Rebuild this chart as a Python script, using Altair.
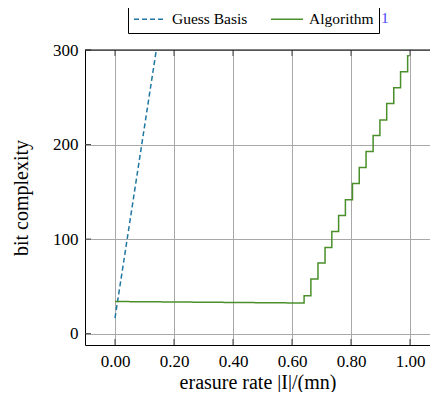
import altair as alt
import pandas as pd

# Guess Basis (dashed)
guess_x = [0.0, 0.14]
guess_y = [16.5, 300.0]

# Algorithm 1 (staircase)
alg_start = (0.0, 34.0)
plateau_end_y = 32.4
step_x = [0.641, 0.664, 0.688, 0.712, 0.735, 0.758, 0.781, 0.805, 0.828,
          0.851, 0.875, 0.898, 0.921, 0.945, 0.968, 0.992]
step_y = [40.1, 57.7, 74.6, 91.2, 108.1, 125.0, 141.5, 158.8, 175.7,
          192.6, 209.5, 226.0, 243.3, 260.2, 277.1, 294.0]
alg_end_x = 0.998

series = ["Guess Basis", "Algorithm 1"]
colors = ["#1f77a0", "#4a8f2a"]
dashes = [[5, 3], [1, 0]]

x_ticks = [0.0, 0.2, 0.4, 0.6, 0.8, 1.0]
y_ticks = [0, 100, 200, 300]

rows = []
o = 0
for x, y in zip(guess_x, guess_y):
    rows.append({"s": series[0], "x": x, "y": y, "o": o}); o += 1
rows.append({"s": series[1], "x": alg_start[0], "y": alg_start[1], "o": o}); o += 1
prev = plateau_end_y
for x, y in zip(step_x, step_y):
    rows.append({"s": series[1], "x": x, "y": prev, "o": o}); o += 1
    rows.append({"s": series[1], "x": x, "y": y, "o": o}); o += 1
    prev = y
rows.append({"s": series[1], "x": alg_end_x, "y": prev, "o": o})
df = pd.DataFrame(rows)

W, H = 345, 295
XDOM = [-0.1017, -0.1017 + W / 295.0]
YDOM = [-12, 300]
FONT = "Liberation Serif"
LEG_X, LEG_Y = 43, -45
LEG_FS = 15.5
LABEL_EXPR = "datum.label == 'Algorithm 1' ? 'Algorithm    ' : datum.label"

xs = alt.Scale(domain=XDOM, nice=False, zero=False)
ys = alt.Scale(domain=YDOM, nice=False, zero=False)

leg = alt.Legend(title=None, orient="none", legendX=LEG_X, legendY=LEG_Y,
                 direction="horizontal", labelExpr=LABEL_EXPR)

lines = alt.Chart(df).mark_line(strokeWidth=1.5, clip=True).encode(
    x=alt.X("x:Q", scale=xs,
            axis=alt.Axis(values=x_ticks, format=".2f", title="erasure rate |I|/(mn)",
                          grid=True, ticks=False, labelPadding=8, titlePadding=3)),
    y=alt.Y("y:Q", scale=ys,
            axis=alt.Axis(values=y_ticks, title="bit complexity", grid=True, ticks=False,
                          labelPadding=7, titlePadding=21)),
    color=alt.Color("s:N", scale=alt.Scale(domain=series, range=colors), legend=leg),
    strokeDash=alt.StrokeDash("s:N", scale=alt.Scale(domain=series, range=dashes), legend=leg),
    order="o:Q",
)

one = pd.DataFrame({"t": ["1"]})
blue_one = alt.Chart(one).mark_text(
    font=FONT, fontSize=LEG_FS, color="#4b4bff", align="left", baseline="middle"
).encode(text="t:N", x=alt.value(296), y=alt.value(-32))

top = alt.Chart(pd.DataFrame({"a": [0]})).mark_rule(color="black", strokeWidth=1).encode(
    x=alt.value(0), x2=alt.value(W), y=alt.value(0)
)

xt = pd.DataFrame({"x": x_ticks})
yt = pd.DataFrame({"y": y_ticks})
tick_top = alt.Chart(xt).mark_rule(color="#444", strokeWidth=1).encode(
    x=alt.X("x:Q", scale=xs), y=alt.value(0), y2=alt.value(6))
tick_bot = alt.Chart(xt).mark_rule(color="#444", strokeWidth=1).encode(
    x=alt.X("x:Q", scale=xs), y=alt.value(H - 6), y2=alt.value(H))
tick_left = alt.Chart(yt).mark_rule(color="#444", strokeWidth=1).encode(
    y=alt.Y("y:Q", scale=ys), x=alt.value(0), x2=alt.value(6))

chart = alt.layer(tick_top, tick_bot, tick_left, lines, top, blue_one).properties(
    width=W, height=H,
    autosize=alt.AutoSizeParams(type="none"),
    padding={"left": 77, "top": 42, "right": 0, "bottom": 47},
).configure_view(stroke=None).configure_axis(
    labelFont=FONT, titleFont=FONT, labelFontSize=17, titleFontSize=20,
    titleFontWeight="normal", labelColor="black", titleColor="black",
    domainColor="black", domainWidth=1, gridColor="#a8a8a8", gridWidth=1,
).configure_legend(
    labelFont=FONT, labelFontSize=LEG_FS, labelColor="black",
    strokeColor="black", padding=5, cornerRadius=0,
    symbolType="M-1,0L3,0", symbolSize=256, symbolStrokeWidth=1.5,
    columnPadding=20, labelOffset=21,
)

chart.save("out.html", embed_options={"renderer": "svg", "actions": False})
